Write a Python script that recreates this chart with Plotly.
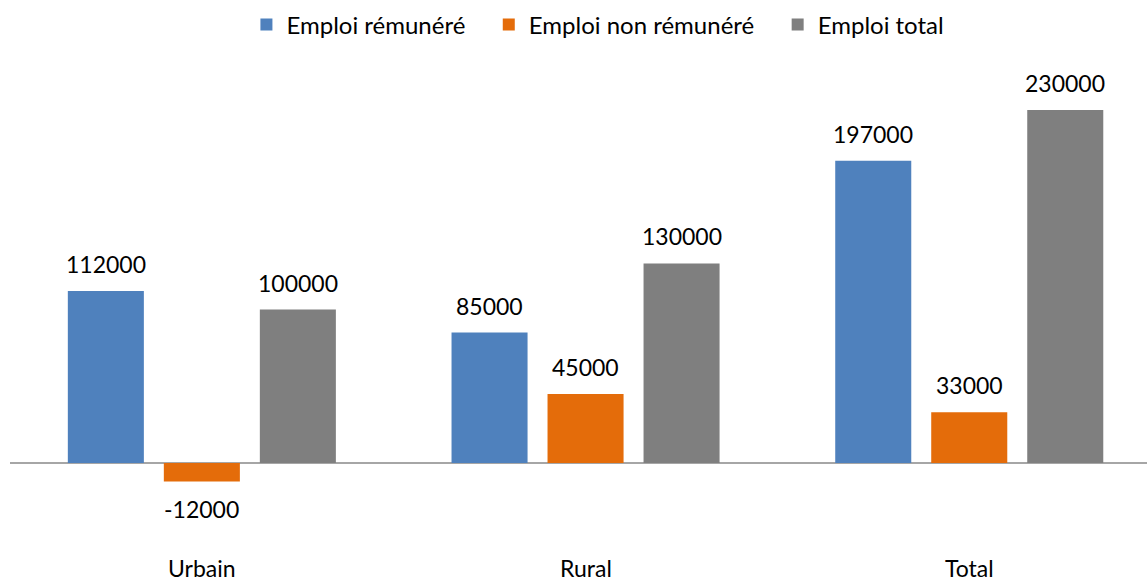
import plotly.graph_objects as go

categories = ["Urbain", "Rural", "Total"]
series_names = ["Emploi rémunéré", "Emploi non rémunéré", "Emploi total"]
emploi_remunere = [112000, 85000, 197000]
emploi_non_remunere = [-12000, 45000, 33000]
emploi_total = [100000, 130000, 230000]
colors = ["#4F81BD", "#E46C0A", "#7F7F7F"]

series = [emploi_remunere, emploi_non_remunere, emploi_total]
FONT = "Lato"
FS = 23

fig = go.Figure()
for name, vals, col in zip(series_names, series, colors):
    fig.add_trace(go.Bar(x=categories, y=vals, name=name + "\u00a0\u00a0\u00a0",
                         marker=dict(color=col, line=dict(width=0))))

# geometry
k = 353 / 230000.0  # px per unit
top_px, bot_px, zero_px = 60, 540, 463
y_top = (zero_px - top_px) / k
y_bot = -(bot_px - zero_px) / k

# value labels
offsets = [-1, 0, 1]
slot = 0.7506 / 3
for vals, off in zip(series, offsets):
    for i, v in enumerate(vals):
        fig.add_annotation(
            x=i + off * slot, y=v, xref="x", yref="y", text=str(v), showarrow=False,
            yanchor="bottom" if v >= 0 else "top", yshift=11 if v >= 0 else -12,
            font=dict(family=FONT, size=FS, color="#000000"),
        )

# category labels
for i, c in enumerate(categories):
    fig.add_annotation(x=i, y=(bot_px - 584) / (bot_px - top_px), xref="x", yref="paper",
                       text=c, showarrow=False, yanchor="bottom",
                       font=dict(family=FONT, size=FS, color="#000000"))

fig.update_layout(
    width=1147, height=583,
    margin=dict(l=10, r=0, t=top_px, b=583 - bot_px),
    paper_bgcolor="white", plot_bgcolor="white",
    barmode="group", bargap=0.2494, bargroupgap=0.208,
    font=dict(family=FONT, size=FS, color="#000000"),
    showlegend=True,
    legend=dict(orientation="h", x=0.525, xanchor="center", y=1 + (top_px - 25) / (bot_px - top_px),
                yanchor="middle", font=dict(family=FONT, size=24), itemwidth=30, traceorder="normal"),
    xaxis=dict(range=[-0.5, -0.5 + 1137 / 383.7], showticklabels=False, showgrid=False,
               zeroline=False, showline=False, ticks=""),
    yaxis=dict(range=[y_bot, y_top], showticklabels=False, showgrid=False,
               zeroline=True, zerolinecolor="#A6A6A6", zerolinewidth=1.5, showline=False, ticks=""),
)

fig.write_html("out.html", config={"displayModeBar": False},
               post_script="document.body.style.margin='0';")
